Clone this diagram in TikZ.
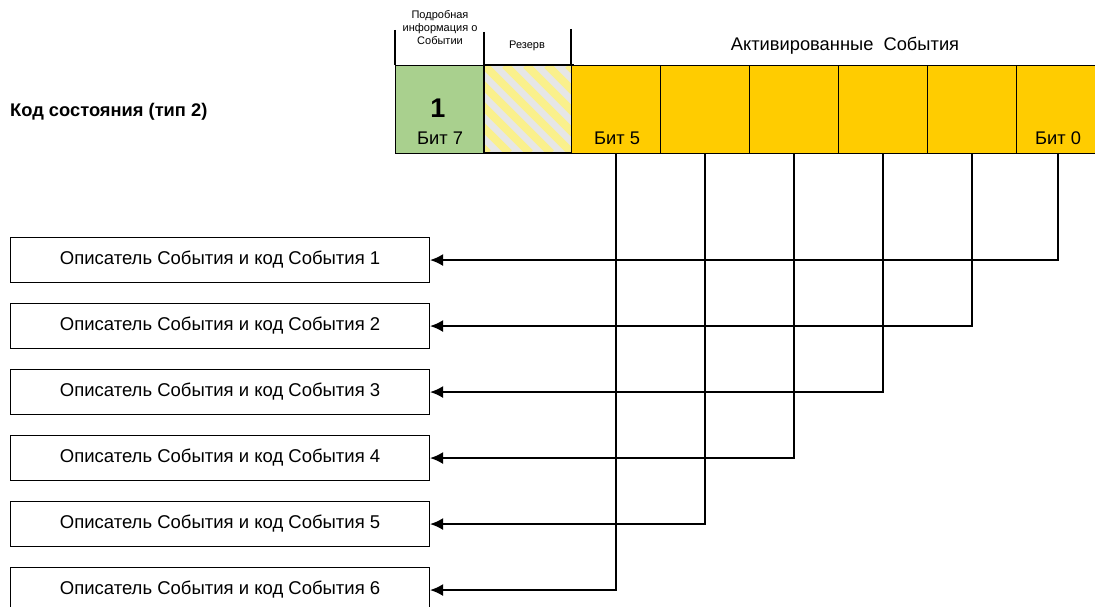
\documentclass[tikz,border=0pt]{standalone}
\usepackage{fontspec}
\setmainfont{Liberation Sans}
\usetikzlibrary{arrows.meta}
\definecolor{cgreen}{RGB}{169,208,142}
\definecolor{cyellow}{RGB}{255,204,0}
\definecolor{cstripe}{RGB}{250,240,140}
\definecolor{cgray}{RGB}{230,230,230}
\begin{document}
\begin{tikzpicture}[x=1pt,y=-1pt,
  cell/.style={draw=black, line width=1.3pt, minimum width=89pt, minimum height=88pt, inner sep=0pt, anchor=north west},
  evbox/.style={draw=black, line width=1.1pt, minimum width=419pt, minimum height=45pt, inner sep=0pt, anchor=north west, font=\fontsize{18.5}{22}\selectfont},
  conn/.style={line width=1.6pt, -{Latex[length=13pt,width=12pt]}},
  lbl/.style={font=\fontsize{18.3}{22}\selectfont, inner sep=0pt},
  hdr/.style={font=\fontsize{11}{13}\selectfont, inner sep=0pt, align=center}]
\useasboundingbox (0,0) rectangle (1095,607);
\clip (0,0) rectangle (1095,607);
% header separators
\draw[line width=1.3pt] (395,30) -- (395,65);
\draw[line width=1.3pt] (484,32) -- (484,65);
\draw[line width=1.3pt] (571,29) -- (571,65);
\node[hdr] (hd) at (440,28) {Подробная\\информация о\\Событии};
\node[hdr] (hr) at (527,46) {Резерв};
\node[lbl] (ha) at (845,46) {Активированные\ \ События};
% title
\node[font=\bfseries\fontsize{18.3}{22}\selectfont, inner sep=0pt, anchor=west] (title) at (10,112) {Код состояния (тип 2)};
% cells
\node[cell, fill=cgreen] (c7) at (395,65) {};
\node[cell, fill=cgray] (c6) at (484,65) {};
\begin{scope}
  \clip (484,65) rectangle (573,153);
  \foreach \i in {-6,...,10} {
    \draw[cstripe, line width=8pt] (484+\i*21,65) -- ++(88,88);
  }
\end{scope}
\draw[line width=1.3pt] (484,65) rectangle (573,153);
\node[cell, fill=cyellow] (c5) at (571,65) {};
\node[cell, fill=cyellow] (c4) at (660,65) {};
\node[cell, fill=cyellow] (c3) at (749,65) {};
\node[cell, fill=cyellow] (c2) at (838,65) {};
\node[cell, fill=cyellow] (c1) at (927,65) {};
\node[cell, fill=cyellow, minimum width=100pt] (c0) at (1016,65) {};
\node[font=\bfseries\fontsize{27}{30}\selectfont, inner sep=0pt] (one) at (438,108) {1};
\node[lbl] (b7) at (440,138) {Бит 7};
\node[lbl] (b5) at (617,138) {Бит 5};
\node[lbl] (b0) at (1058,138) {Бит 0};
% event boxes
\foreach \n/\y in {1/237,2/303,3/369,4/435,5/501,6/567} {
  \node[evbox] (e\n) at (10,\y) {Описатель События и код События \n};
}
% connectors
\coordinate (s0) at (1058,153);
\draw[conn] (s0) |- (e1.east);
\draw[conn] (c1.south) |- (e2.east);
\draw[conn] (c2.south) |- (e3.east);
\draw[conn] (c3.south) |- (e4.east);
\draw[conn] (c4.south) |- (e5.east);
\draw[conn] (c5.south) |- (e6.east);
\end{tikzpicture}
\end{document}
